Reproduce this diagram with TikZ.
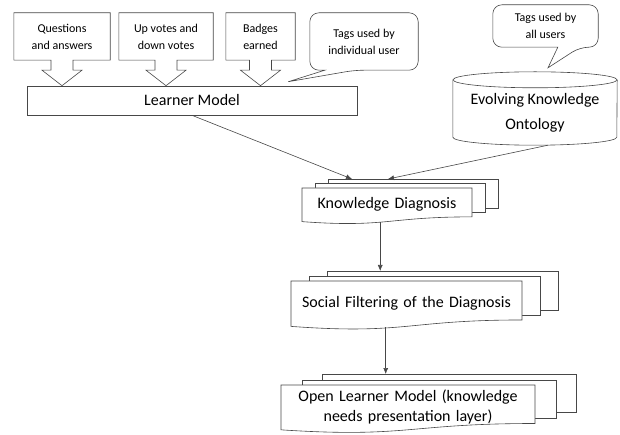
\documentclass[tikz,border=0pt]{standalone}
\usepackage{fontspec}
\setmainfont{Carlito}
\usetikzlibrary{arrows.meta,positioning,calc}

\colorlet{linecol}{black!72}

% stack of three sheets, the front one with a wavy foot
% #1 name, #2 top left of front sheet, #3 width, #4 height,
% #5/#6 sheet offset, #7 foot position (part of width), #8 text
\newcommand{\docstack}[8]{%
  \begin{scope}[shift={(#2)}]
    \node[sheet, minimum width=#3pt, minimum height=0.802*#4pt, anchor=north west]
      (#1-back) at (2*#5,-2*#6) {};
    \node[sheet, minimum width=#3pt, minimum height=0.802*#4pt, anchor=north west]
      (#1-mid) at (#5,-#6) {};
    \filldraw[sheet] (0,0) -- (#3,0) -- (#3,0.802*#4)
      .. controls (0.5*#3,0.802*#4) and (0.5*#3,1.107*#4) .. (0,0.934*#4) -- cycle;
    \node[doctext, text width=#3pt-10pt] (#1) at (0.5*#3,0.45*#4) {#8};
    \coordinate (#1-foot) at (#7*#3,0.955*#4);
  \end{scope}}

\begin{document}
\begin{tikzpicture}[
  x=1pt, y=-1pt,
  outline/.style={draw=linecol, line width=0.6pt},
  sheet/.style={draw=linecol, line width=0.6pt, fill=white, inner sep=0pt},
  box/.style={rectangle, draw=linecol, line width=0.6pt, font=\fontsize{16}{20}\selectfont},
  callbox/.style={rectangle, inner sep=0pt, minimum height=47pt, align=center,
                  font=\fontsize{12}{17}\selectfont},
  bubble/.style={rectangle, inner sep=0pt, align=center, font=\fontsize{12}{17}\selectfont},
  cylbody/.style={rectangle, inner sep=0pt},
  cyltext/.style={inner sep=0pt, align=center, font=\fontsize{16}{22}\selectfont},
  doctext/.style={inner sep=0pt, align=center, font=\fontsize{16}{20}\selectfont},
  flow/.style={draw=linecol, line width=0.6pt, -{Latex[length=6pt,width=5pt]}}
]
  \useasboundingbox (0,0) rectangle (620,435);

  %--- LEARNER MODEL ---
  \node[box, minimum width=330pt, minimum height=29pt] (lm) at (192,100.5) {Learner Model};

  % Inputs (down arrow callouts)
  \foreach \n/\x/\w/\txt in {qa/62/96/{Questions\\and answers},
                             votes/166/94/{Up votes and\\down votes},
                             badge/260.5/69/{Badges\\earned}}{
    \node[callbox, minimum width=\w pt] (\n) at (\x,36.5) {\txt};
    \coordinate (\n-tip) at (\n.south |- lm.north);
    \draw[outline] (\n.south west) -- (\n.north west) -- (\n.north east) -- (\n.south east)
      -- ([xshift=11pt]\n.south) -- ([shift={(11,10)}]\n.south)
      -- ([shift={(20,10)}]\n.south) -- (\n-tip) -- ([shift={(-20,10)}]\n.south)
      -- ([shift={(-11,10)}]\n.south) -- ([xshift=-11pt]\n.south) -- cycle;
  }

  % Tags of one user
  \node[bubble, minimum width=108pt, minimum height=57pt] (tagsown) at (364,41.5)
    {Tags used by\\individual user};
  \coordinate (tagsown-tip) at ([shift={(-69,-4)}]lm.north east);
  \draw[outline, rounded corners=9pt] (tagsown.north) -- (tagsown.north east)
    -- (tagsown.south east) -- ([xshift=45pt]tagsown.south west) [sharp corners]
    -- (tagsown-tip) -- ([xshift=15pt]tagsown.south west) [rounded corners=9pt]
    -- (tagsown.south west) -- (tagsown.north west) -- cycle;

  %--- ONTOLOGY ---
  \node[cylbody, minimum width=164pt, minimum height=57pt] (ont) at (535,108.5) {};
  \draw[outline] (ont.north west) -- (ont.south west)
    arc[start angle=180, end angle=360, x radius=82pt, y radius=8pt] -- (ont.north east);
  \draw[outline] (ont.north) ellipse[x radius=82pt, y radius=8pt];
  \node[cyltext] (ont-text) at (535,112.5) {Evolving Knowledge\\[3pt]Ontology};
  \coordinate (ont-base) at ([yshift=-8pt]ont.south);

  % Tags of all users
  \node[bubble, minimum width=105pt, minimum height=42pt] (tagsall) at (545.5,26)
    {Tags used by\\all users};
  \coordinate (tagsall-tip) at ([shift={(13,-12)}]ont.north);
  \draw[outline, rounded corners=9pt] (tagsall.north) -- (tagsall.north east)
    -- (tagsall.south east) -- ([xshift=87pt]tagsall.south west) [sharp corners]
    -- (tagsall-tip) -- ([xshift=65pt]tagsall.south west) [rounded corners=9pt]
    -- (tagsall.south west) -- (tagsall.north west) -- cycle;

  %--- PIPELINE ---
  \docstack{diag}{302,188}{170}{36}{13}{4.5}{0.46}{Knowledge Diagnosis}
  \docstack{filt}{291,281}{231}{48.6}{18}{5}{0.41}{Social Filtering of the Diagnosis}
  \docstack{olm}{281,385}{254}{48}{20.5}{5.5}{0.41}%
    {Open Learner Model (knowledge\\needs presentation layer)}

  % Flows
  \draw[flow] (lm.south) -- ([xshift=24pt]diag-back.north west);
  \draw[flow] ([xshift=13pt]ont-base) -- ([xshift=60pt]diag-back.north west);
  \draw[flow] (diag-foot) -- (diag-foot |- filt-back.north);
  \draw[flow] (filt-foot) -- (filt-foot |- olm-back.north);

\end{tikzpicture}
\end{document}
